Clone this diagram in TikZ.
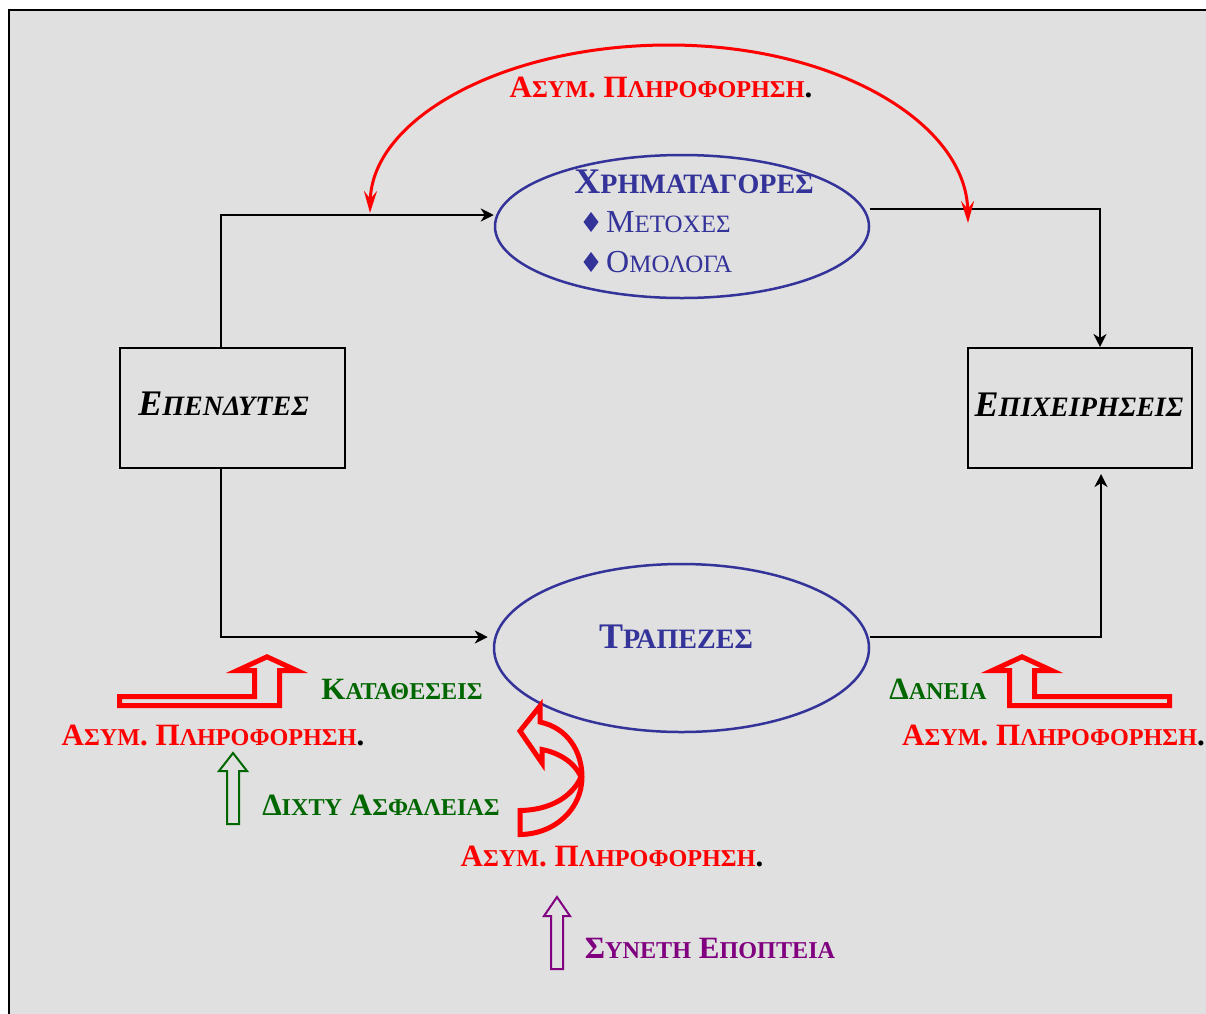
\documentclass[tikz,border=0pt]{standalone}
\usepackage{fontspec}
\setmainfont{Liberation Serif}
\usetikzlibrary{arrows.meta}
\definecolor{bgc}{HTML}{E0E0E0}
\definecolor{nblue}{HTML}{333399}
\definecolor{dgreen}{HTML}{006600}
\definecolor{purp}{HTML}{800080}
\newdimen\scd
\newcommand{\smc}[1]{{\scd=0.78\fontdimen6\font\relax\fontsize{\scd}{\scd}\selectfont #1}}
\newcommand{\asym}{\textcolor{red}{Α\smc{ΣΥΜ}. Π\smc{ΛΗΡΟΦΟΡΗΣΗ}}.}
\tikzset{
  box/.style={draw=black, line width=2pt, minimum width=225pt, minimum height=120pt, inner sep=0pt,
    font=\bfseries\itshape\fontsize{36}{36}\selectfont},
  ell/.style={draw=nblue, line width=2.5pt, ellipse, inner sep=0pt},
  conn/.style={draw=black, line width=2pt, -{Stealth[length=13pt,width=13pt,inset=4pt]}},
  lbl/.style={inner sep=0pt, font=\bfseries\fontsize{31}{31}\selectfont},
  title/.style={inner sep=0pt, text=nblue, font=\bfseries\fontsize{36}{36}\selectfont},
  item/.style={inner sep=0pt, text=nblue, anchor=west, font=\fontsize{32}{32}\selectfont},
  redarrow/.style={draw=red, line width=5pt, line join=miter, miter limit=10},
  hollow/.style={line width=2pt, line join=miter},
}
\usetikzlibrary{shapes.geometric}
\begin{document}
\begin{tikzpicture}[x=1pt,y=-1pt]
\useasboundingbox (0,0) rectangle (1206,1013);
\fill[white] (0,0) rectangle (1206,1013);
\draw[line width=2pt, fill=bgc] (9,10) rectangle (1220,1025);

% main nodes
\node[box] (inv) at (232.5,408) {};
\node[box, minimum width=224pt] (firm) at (1080,408) {};
\node[ell, minimum width=374pt, minimum height=143pt] (mkt) at (682,226.5) {};
\node[ell, minimum width=375pt, minimum height=168pt] (bank) at (681.5,648) {};

% texts in boxes / ellipses
\node[inner sep=0pt, font=\bfseries\itshape\fontsize{36}{36}\selectfont] (invt) at (223.5,404) {Ε\smc{ΠΕΝΔΥΤΕΣ}};
\node[inner sep=0pt, font=\bfseries\itshape\fontsize{36}{36}\selectfont] (firmt) at (1079,405) {Ε\smc{ΠΙΧΕΙΡΗΣΕΙΣ}};
\node[title] (mktt) at (694,182) {Χ\smc{ΡΗΜΑΤΑΓΟΡΕΣ}};
\node[item] (shares) at (606,222) {Μ\smc{ΕΤΟΧΕΣ}};
\node[item] (bonds) at (606,262) {Ο\smc{ΜΟΛΟΓΑ}};
\fill[nblue] (591,212) -- (598.5,222) -- (591,232) -- (583.5,222) -- cycle;
\fill[nblue] (591,252) -- (598.5,262) -- (591,272) -- (583.5,262) -- cycle;
\node[title] (bankt) at (676,637) {Τ\smc{ΡΑΠΕΖΕΣ}};

% connectors
\draw[conn] ([xshift=-11.5pt]inv.north) |- ([yshift=11.5pt]mkt.west);
\draw[conn] ([yshift=17.5pt]mkt.east) -| ([xshift=20pt]firm.north);
\draw[conn, shorten >=5pt] ([xshift=-11.5pt]inv.south) |- ([yshift=11pt]bank.west);
\draw[conn, shorten >=5pt] ([yshift=11pt]bank.east) -| ([xshift=21pt]firm.south);

% top red two-headed arc
\coordinate (arcL) at (370,213);
\coordinate (arcR) at (968,223);
\draw[red, line width=3pt, {Stealth[length=22pt,width=13pt,inset=8pt]}-{Stealth[length=22pt,width=13pt,inset=8pt]}]
  (arcL) .. controls (372,118) and (505,45) .. (669,45) .. controls (834,45) and (966,122) .. (arcR);
\node[lbl] (asymtop) at (661,87) {\asym};

% left side
\draw[redarrow] (119.5,696.5) -- (254.5,696.5) -- (254.5,670.5) -- (237.3,670.5) -- (267,656.8)
  -- (296.7,670.5) -- (279.5,670.5) -- (279.5,705.5) -- (119.5,705.5) -- cycle;
\node[lbl, text=dgreen] (dep) at (402,689) {Κ\smc{ΑΤΑΘΕΣΕΙΣ}};
\node[lbl] (asymleft) at (213,735) {\asym};
\draw[hollow, draw=dgreen] (227,824) -- (227,771) -- (219,771) -- (233,753) -- (247,771) -- (239,771) -- (239,824) -- cycle;
\node[lbl, text=dgreen] (net) at (381,805) {Δ\smc{ΙΧΤΥ} Α\smc{ΣΦΑΛΕΙΑΣ}};

% right side
\draw[redarrow] (1169.5,696.5) -- (1034.5,696.5) -- (1034.5,670.5) -- (1051.7,670.5) -- (1022,656.8)
  -- (992.3,670.5) -- (1009.5,670.5) -- (1009.5,705.5) -- (1169.5,705.5) -- cycle;
\node[lbl, text=dgreen] (loans) at (938,689) {Δ\smc{ΑΝΕΙΑ}};
\node[lbl, anchor=east] (asymright) at (1205,735) {\asym};

% bottom curved arrow
\draw[redarrow] (540,722) -- (540,706) -- (520,731) -- (542,763) -- (542,749.5)
  .. controls (560,753) and (575,763) .. (581,777)
  .. controls (572,797) and (550,810) .. (520,810.5)
  -- (520,834.5)
  .. controls (556,834) and (582,808) .. (582,777)
  .. controls (582,752) and (568,728) .. (540,722) -- cycle;
\node[lbl] (asymbot) at (612,856) {\asym};
\draw[hollow, draw=purp] (551,969) -- (551,916) -- (544,916) -- (557,897) -- (570,916) -- (563,916) -- (563,969) -- cycle;
\node[lbl, text=purp] (sup) at (710,948) {Σ\smc{ΥΝΕΤΗ} Ε\smc{ΠΟΠΤΕΙΑ}};
\end{tikzpicture}
\end{document}
